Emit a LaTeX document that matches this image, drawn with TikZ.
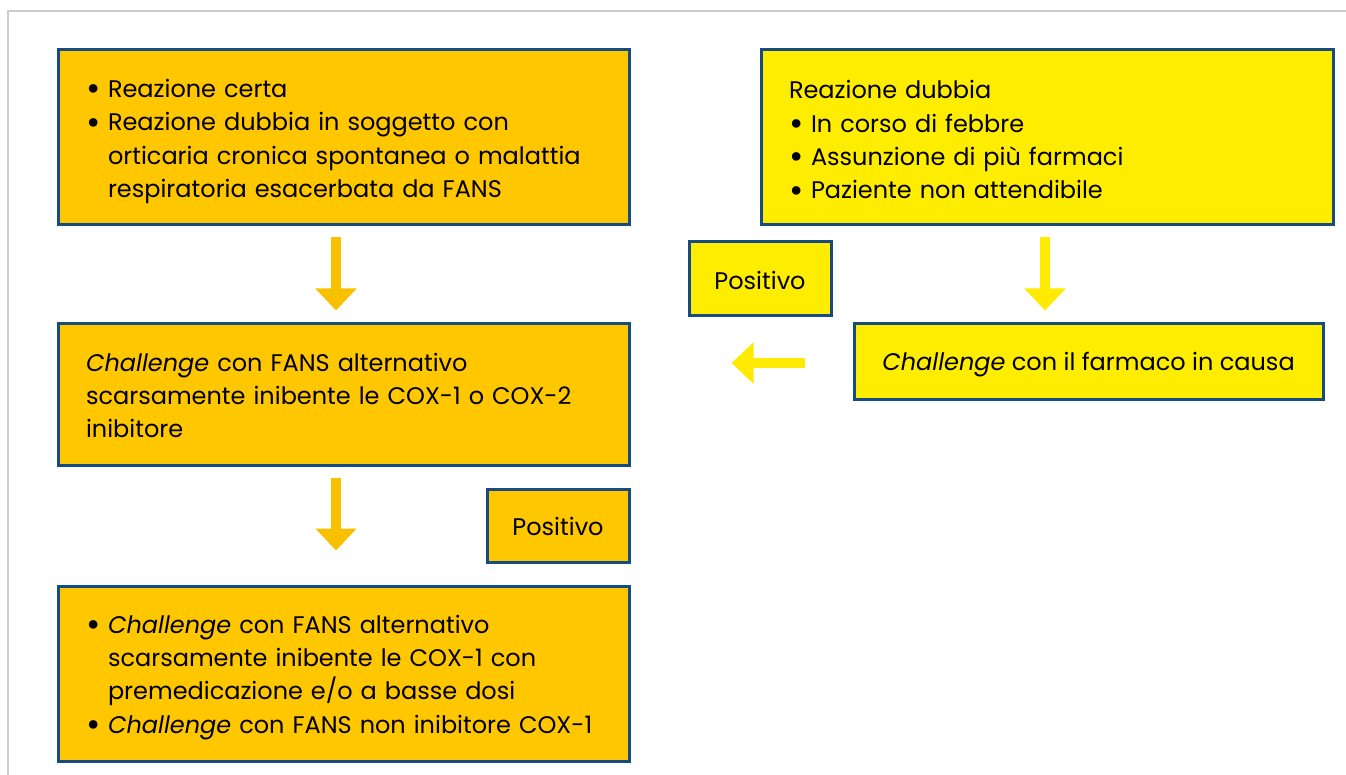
\documentclass[tikz,border=0pt]{standalone}
\usepackage{fontspec}
\setmainfont{Poppins}
\usetikzlibrary{arrows.meta}
\definecolor{orangebox}{RGB}{255,199,0}
\definecolor{yellowbox}{RGB}{255,237,0}
\definecolor{bordblue}{RGB}{22,76,130}
\definecolor{arrorange}{RGB}{249,192,0}
\definecolor{arryellow}{RGB}{255,234,0}
\definecolor{framegray}{RGB}{204,204,204}
\newcommand{\bul}{\makebox[22pt][l]{\raisebox{-3.5pt}{\scalebox{1.45}{\textbullet}}}}
\newcommand{\ind}{\hspace*{22pt}}
\newcommand{\tstrut}[1]{\rule{0pt}{#1}}
\begin{document}
\begin{tikzpicture}[x=1pt,y=-1pt,
  box/.style={draw=bordblue,line width=3pt,rectangle,inner xsep=28pt,inner ysep=0pt,
    font=\fontsize{24}{33.3}\selectfont,anchor=center},
  ob/.style={box,fill=orangebox},
  yb/.style={box,fill=yellowbox},
  barrow/.style={line width=10pt,line cap=butt,-{Triangle[width=40pt,length=22pt]}}
]
\useasboundingbox (0,0) rectangle (1346,775);
\draw[framegray,line width=2pt] (8,775) -- (8,11) -- (1346,11);

\node[ob,minimum width=571pt,minimum height=175pt,text width=515pt,align=left] (A) at (343.5,137.5)
 {\tstrut{26pt}\bul Reazione certa\\
  \bul Reazione dubbia in soggetto con\\
  \ind orticaria cronica spontanea o malattia\\
  \ind respiratoria esacerbata da FANS};

\node[yb,minimum width=572pt,minimum height=175pt,text width=516pt,align=left] (B) at (1047,137.5)
 {\tstrut{26pt}Reazione dubbia\\
  \bul In corso di febbre\\
  \bul Assunzione di più farmaci\\
  \bul Paziente non attendibile};

\node[yb,minimum width=142pt,minimum height=74pt,inner xsep=0pt,align=center] (P1) at (760,279) {\tstrut{21pt}Positivo};

\node[yb,minimum width=469pt,minimum height=75pt,inner xsep=0pt,align=center] (E) at (1088.5,361.5)
 {\tstrut{24pt}\textit{Challenge} con il farmaco in causa};

\node[ob,minimum width=571pt,minimum height=141pt,text width=515pt,align=left] (C) at (343.5,394.5)
 {\tstrut{20pt}\textit{Challenge} con FANS alternativo\\
  scarsamente inibente le COX-1 o COX-2\\
  inibitore};

\node[ob,minimum width=142pt,minimum height=73pt,inner xsep=0pt,align=center] (P2) at (558,525.5) {\tstrut{21pt}Positivo};

\node[ob,minimum width=571pt,minimum height=175pt,text width=515pt,align=left] (D) at (343.5,673.5)
 {\tstrut{26pt}\bul\textit{Challenge} con FANS alternativo\\
  \ind scarsamente inibente le COX-1 con\\
  \ind premedicazione e/o a basse dosi\\
  \bul\textit{Challenge} con FANS non inibitore COX-1};

\draw[barrow,draw=arrorange,fill=arrorange,shorten <=11pt,shorten >=12pt]
  ([xshift=-7.5pt]A.south) -- ([xshift=-7.5pt]A.south |- C.north);
\draw[barrow,draw=arrorange,fill=arrorange,shorten <=11pt,shorten >=34pt]
  ([xshift=-7.5pt]C.south) -- ([xshift=-7.5pt]C.south |- D.north);
\draw[barrow,draw=arryellow,fill=arryellow,shorten <=11pt,shorten >=12pt]
  ([xshift=-2pt]B.south) -- ([xshift=-2pt]B.south |- E.north);
\draw[barrow,draw=arryellow,fill=arryellow,shorten <=48pt,shorten >=101pt]
  ([yshift=-1.5pt]E.west) -- ([yshift=-1.5pt]E.west -| C.east);
\end{tikzpicture}
\end{document}
